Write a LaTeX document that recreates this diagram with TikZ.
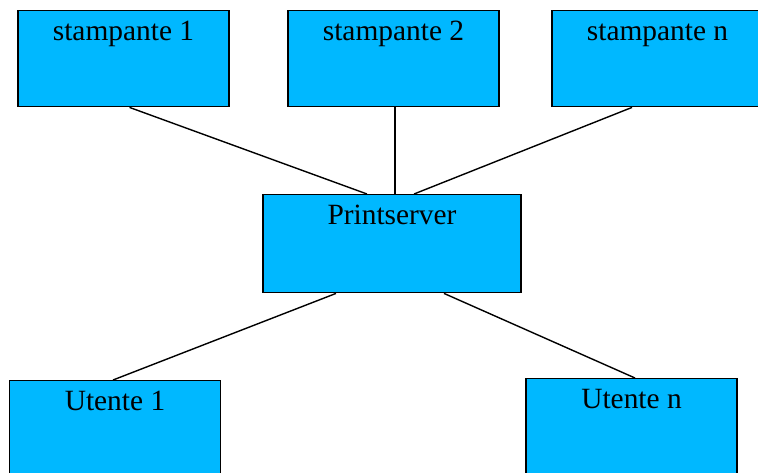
\documentclass[tikz,border=0pt]{standalone}
\usepackage{fontspec}
\setmainfont{Liberation Serif}
\usepackage{tikz}
\usetikzlibrary{positioning}

\definecolor{boxblue}{RGB}{0,184,255}

\begin{document}
\begin{tikzpicture}[
    x=0.5pt, y=-0.5pt,
    box/.style={rectangle, draw=black, line width=0.7pt, fill=boxblue, anchor=north,
        minimum width=105.5pt, inner ysep=4pt, text height=11pt, text depth=29pt,
        font=\fontsize{14.7}{17}\selectfont},
    link/.style={line width=0.7pt}
]
\clip (0,0) rectangle (758,472);
% Printers (top row)
\node[box] (stamp1) at (123.5, 10) {stampante 1};
\node[box] (stamp2) at (393.5, 10) {stampante 2};
\node[box] (stampn) at (657.5, 10) {stampante n};
% Server in the middle
\node[box, minimum width=129pt, text depth=30pt] (server) at (392, 194) {Printserver};
% Users (bottom row)
\node[box] (user1) at (115, 380) {Utente 1};
\node[box] (usern) at (631.5, 378) {Utente n};
% Links printers - server
\draw[link] ([xshift=3pt]stamp1.south) -- ([xshift=-12.5pt]server.north);
\draw[link] ([xshift=0.75pt]stamp2.south) -- ([xshift=1.5pt]server.north);
\draw[link] ([xshift=-12.75pt]stampn.south) -- ([xshift=11pt]server.north);
% Links server - users
\draw[link] ([xshift=-28pt]server.south) -- ([xshift=-1pt]user1.north);
\draw[link] ([xshift=26pt]server.south) -- ([xshift=1.75pt]usern.north);
\end{tikzpicture}
\end{document}
